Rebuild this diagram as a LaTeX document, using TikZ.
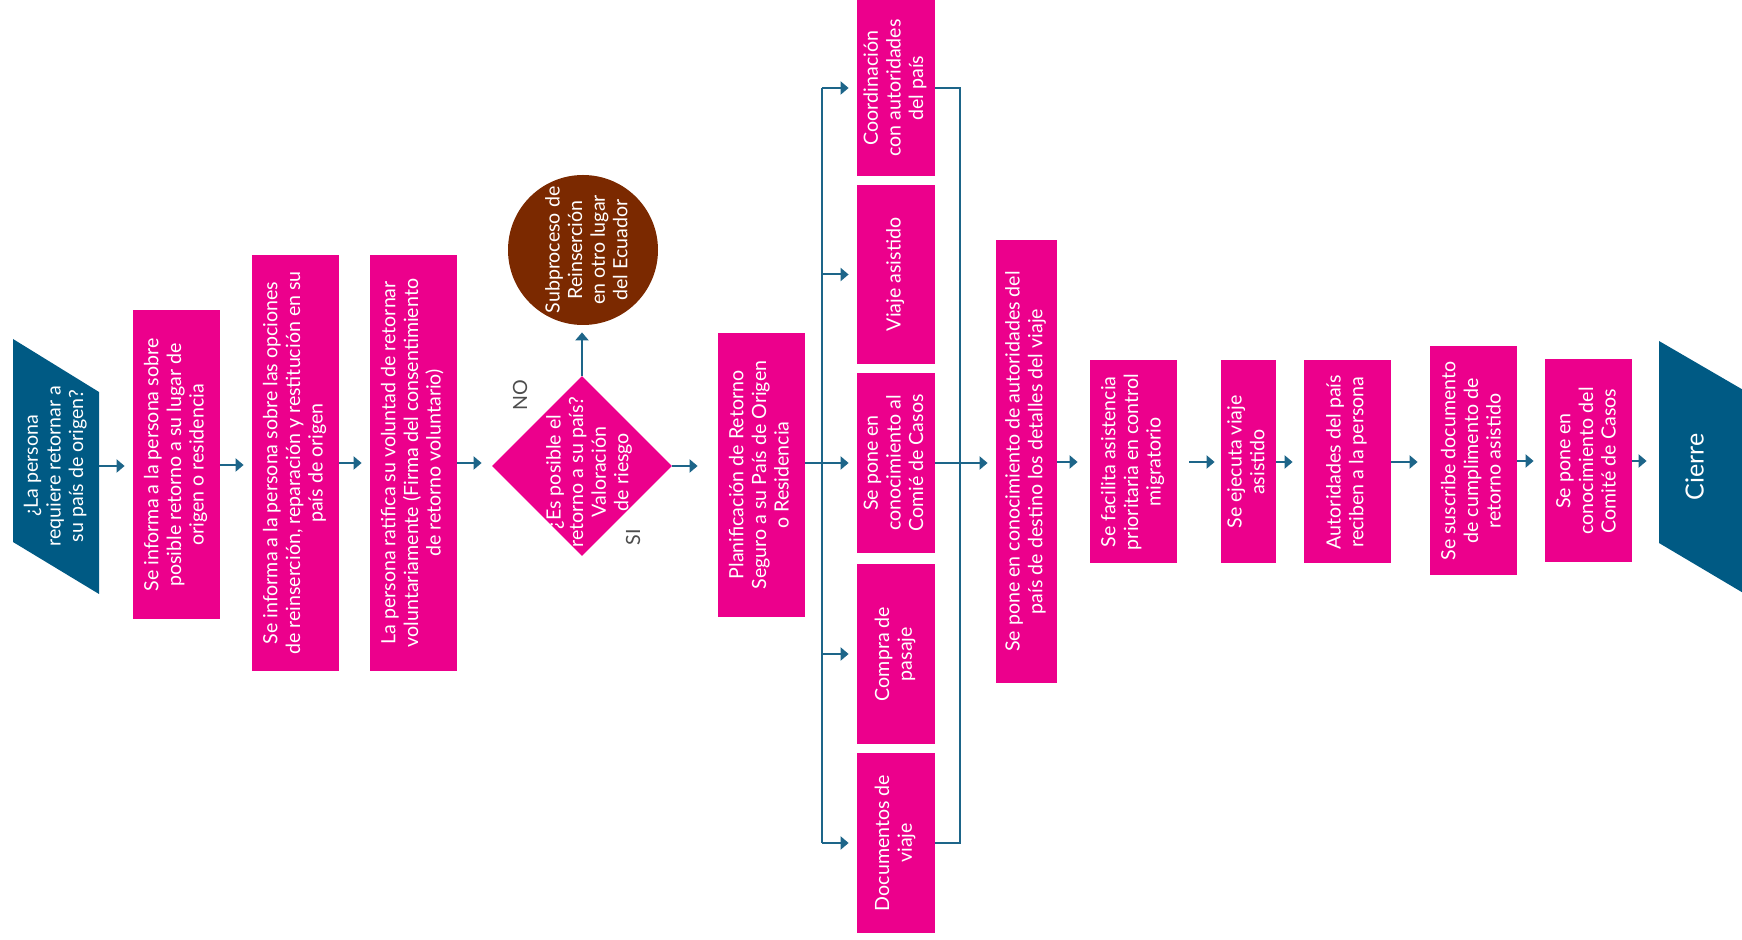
\documentclass[tikz,border=0pt]{standalone}
\usepackage{fontspec}
\setmainfont{Lato}
\usepackage{graphicx}
\usetikzlibrary{shapes.geometric,arrows.meta}

\definecolor{rosa}{HTML}{EC008C}
\definecolor{azul}{HTML}{005A84}
\definecolor{cafe}{HTML}{7B2900}
\definecolor{linea}{HTML}{1D6589}
\definecolor{gris}{HTML}{4D4D4D}

\newcommand{\girado}[1]{\rotatebox{90}{\begin{tabular}{@{}c@{}}#1\end{tabular}}}

\tikzset{
  caja/.style 2 args={fill=rosa, text=white, inner sep=0pt,
    minimum width=#1*0.5pt, minimum height=#2*0.5pt},
  flecha/.style={draw=linea, line width=1pt,
    -{Triangle[length=4pt,width=6.5pt]}, shorten >=4pt},
  rama/.style={draw=linea, line width=1pt},
  etiqueta/.style={text=gris, rotate=90},
}

\begin{document}
\begin{tikzpicture}[x=0.5pt, y=-0.5pt,
    every node/.style={font=\fontsize{9.8}{11.3}\selectfont}]
\useasboundingbox (0,0) rectangle (1742,940);

% inicio y cierre
\fill[azul] (13,339) -- (99,392) -- (99,594) -- (13,542) -- cycle;
\node[text=white, inner sep=0pt, minimum width=43pt] (inicio) at (56,466)
  {\girado{¿La persona\\requiere retornar a\\su país de origen?}};
\fill[azul] (1659,341) -- (1745,391) -- (1745,594) -- (1659,543) -- cycle;
\node[text=white, inner sep=0pt, minimum width=43pt,
  font=\fontsize{12.5}{14}\selectfont] (cierre) at (1698,467) {\girado{Cierre}};

% primera parte
\node[caja={87}{309}] (b1) at (176.5,465)
  {\girado{Se informa a la persona sobre\\posible retorno a su lugar de\\origen o residencia}};
\node[caja={87}{416}] (b2) at (295.5,463)
  {\girado{Se informa a la persona sobre las opciones\\de reinserción, reparación y restitución en su\\país de origen}};
\node[caja={87}{416}] (b3) at (413.5,463)
  {\girado{La persona ratifica su voluntad de retornar\\voluntariamente (Firma del consentimiento\\de retorno voluntario)}};

% decision
\node[diamond, fill=rosa, inner sep=0pt, minimum width=90pt, minimum height=90pt,
  label={[text=white, xshift=4pt, yshift=-3pt]center:{\girado{¿Es posible el\\retorno a su país?\\Valoración\\de riesgo}}}]
  (d) at (582,466) {};
\node[circle, fill=cafe, inner sep=0pt, minimum size=75pt,
  label={[text=white, xshift=3pt]center:{\girado{Subproceso de\\Reinserción\\en otro lugar\\del Ecuador}}}]
  (sub) at (583,250) {};
\node[etiqueta] (no) at (520,395) {NO};
\node[etiqueta] (si) at (633,537) {SI};

\node[caja={87}{284}] (plan) at (761.5,475)
  {\girado{Planificación de Retorno\\Seguro a su País de Origen\\o Residencia}};

% columna de tareas
\node[caja={78}{176}] (c1) at (896,88) {\girado{Coordinación\\con autoridades\\del país}};
\node[caja={78}{179}] (c2) at (896,274.5) {\girado{Viaje asistido}};
\node[caja={78}{180}] (c3) at (896,463) {\girado{Se pone en\\conocimiento al\\Comié de Casos}};
\node[caja={78}{180}] (c4) at (896,654) {\girado{Compra de\\pasaje}};
\node[caja={78}{180}] (c5) at (896,843) {\girado{Documentos de\\viaje}};
\coordinate (ramal) at (822,463);
\coordinate (junta) at (960,463);

% segunda parte
\node[caja={61}{443}] (dest) at (1026.5,461.5)
  {\girado{Se pone en conocimiento de autoridades del\\país de destino los detalles del viaje}};
\node[caja={87}{203}] (f1) at (1133.5,462)
  {\girado{Se facilita asistencia\\prioritaria en control\\migratorio}};
\node[caja={55}{203}] (f2) at (1248.5,462) {\girado{Se ejecuta viaje\\asistido}};
\node[caja={87}{203}] (f3) at (1347.5,462) {\girado{Autoridades del país\\reciben a la persona}};
\node[caja={87}{229}] (f4) at (1473.5,461)
  {\girado{Se suscribe documento\\de cumplimento de\\retorno asistido}};
\node[caja={87}{203}] (f5) at (1588.5,461)
  {\girado{Se pone en\\conocimiento del\\Comité de Casos}};

% conectores
\draw[flecha] (inicio.east) -- (inicio.east -| b1.west);
\draw[flecha] (b1.east) -- (b1.east -| b2.west);
\draw[flecha] (b2.east) -- (b2.east -| b3.west);
\draw[flecha, shorten >=5pt] (b3.east) -- (b3.east -| d.west);
\draw[flecha, shorten >=10pt] (d.east) -- (d.east -| plan.west);
\draw[flecha, shorten >=3.5pt] (d.north) -- (d.north |- sub.south);

\draw[rama] (c1.west -| ramal) -- (c5.west -| ramal);
\foreach \c in {c1,c2,c4,c5}
  \draw[flecha] (\c.west -| ramal) -- (\c.west);
\draw[flecha] (plan.east |- c3.west) -- (c3.west);
\draw[rama] (c1.east) -- (c1.east -| junta) -- (c5.east -| junta) -- (c5.east);
\draw[flecha] (c3.east) -- (c3.east -| dest.west);

\draw[flecha, shorten >=6pt] (dest.east |- f1.west) -- (f1.west);
\draw[flecha, shorten <=6pt, shorten >=3pt] (f1.east) -- (f2.west);
\draw[flecha, shorten >=5.5pt] (f2.east) -- (f3.west);
\draw[flecha, shorten >=6pt] (f3.east) -- (f3.east -| f4.west);
\draw[flecha, shorten >=5.5pt] (f4.east) -- (f5.west);
\draw[flecha] (f5.east) -- (f5.east -| cierre.west);
\end{tikzpicture}
\end{document}
